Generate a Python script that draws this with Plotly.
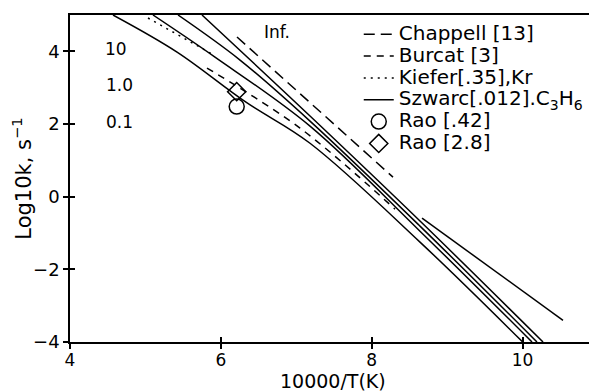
import plotly.graph_objects as go

# Fall-off curves: x = 10000/T, y = log10 k
p01_x = [4.570, 5.419, 6.333, 7.182, 8.640, 10.006]
p01_y = [5.00, 3.98, 2.60, 1.47, -1.25, -4.01]
p1_x = [5.100, 5.922, 7.182, 8.640, 10.125]
p1_y = [5.00, 3.84, 1.94, -0.95, -4.00]
p10_x = [5.432, 6.254, 7.182, 8.640, 10.191]
p10_y = [5.00, 3.76, 2.08, -0.81, -4.00]
pinf_x = [5.750, 7.182, 8.640, 10.271]
pinf_y = [5.00, 2.22, -0.67, -4.00]

chappell_x = [6.214, 8.282]
chappell_y = [4.394, 0.537]
burcat_x = [5.816, 7.049, 8.309]
burcat_y = [3.54, 1.887, -0.344]
kiefer_x = [5.034, 5.883]
kiefer_y = [4.917, 3.926]
szwarc_x = [8.667, 10.536]
szwarc_y = [-0.592, -3.402]
rao42_x = [6.21]
rao42_y = [2.48]
rao28_x = [6.21]
rao28_y = [2.89]

curve_labels = ["10", "1.0", "0.1", "Inf."]
curve_label_x = [4.61, 4.66, 4.65, 6.74]
curve_label_y = [4.06, 3.07, 2.05, 4.53]

FONT = "DejaVu Sans"
fig = go.Figure()
lw = 1.5
for xs, ys in [(p01_x, p01_y), (p1_x, p1_y), (p10_x, p10_y), (pinf_x, pinf_y)]:
    fig.add_trace(go.Scatter(x=xs, y=ys, mode="lines", line=dict(color="black", width=lw, shape="spline", smoothing=1.0),
                             showlegend=False, hoverinfo="skip"))

def lg(t):
    return '<span style="font-size:20px">' + t + '</span>'

fig.add_trace(go.Scatter(x=chappell_x, y=chappell_y, mode="lines", name=lg("Chappell [13]"),
                         line=dict(color="black", width=lw, dash="11px,6px")))
fig.add_trace(go.Scatter(x=burcat_x, y=burcat_y, mode="lines", name=lg("Burcat [3]"),
                         line=dict(color="black", width=lw, dash="7px,6px", shape="spline")))
fig.add_trace(go.Scatter(x=kiefer_x, y=kiefer_y, mode="lines", name=lg("Kiefer[.35],Kr"),
                         line=dict(color="black", width=lw, dash="2px,5px")))
fig.add_trace(go.Scatter(x=szwarc_x, y=szwarc_y, mode="lines", name=lg("Szwarc[.012].C<sub>3</sub>H<sub>6</sub>"),
                         line=dict(color="black", width=lw)))
fig.add_trace(go.Scatter(x=rao42_x, y=rao42_y, mode="markers", name=lg("Rao [.42]"),
                         marker=dict(symbol="circle-open", size=15, color="black", line=dict(width=1.5))))
fig.add_trace(go.Scatter(x=rao28_x, y=rao28_y, mode="markers", name=lg("Rao [2.8]"),
                         marker=dict(symbol="diamond-open", size=14, color="black", line=dict(width=1.5))))
# dummy trace for overlay axes (inner tick halves)
fig.add_trace(go.Scatter(x=[4], y=[-4], xaxis="x2", yaxis="y2", mode="markers",
                         marker=dict(opacity=0), showlegend=False, hoverinfo="skip"))

for t, x, y in zip(curve_labels, curve_label_x, curve_label_y):
    fig.add_annotation(x=x, y=y, text=t, showarrow=False, font=dict(family=FONT, size=17, color="black"))

# x-axis title as a paper annotation, below the tick labels
fig.add_annotation(x=0.5, y=-0.119, xref="paper", yref="paper", text="10000/T(K)", showarrow=False,
                   xanchor="center", yanchor="middle", borderpad=0,
                   font=dict(family=FONT, size=19, color="black"))

axis_common = dict(showgrid=False, zeroline=False, tickcolor="black", tickwidth=1.5, ticklen=5, automargin=False)
# page body has an 8px margin, so the figure is made 8px smaller on each leading side
fig.update_layout(
    width=589, height=384,
    margin=dict(l=62, r=2, t=7, b=50, autoexpand=False),
    paper_bgcolor="white", plot_bgcolor="white",
    font=dict(family=FONT, color="black"),
    xaxis=dict(range=[4, 10.96], tickvals=[4, 6, 8, 10], ticks="outside", showline=True, mirror=True,
               linecolor="black", linewidth=1.5, ticklabelstandoff=-3,
               tickfont=dict(size=17), **axis_common),
    yaxis=dict(range=[-4, 5], tickvals=[-4, -2, 0, 2, 4], ticks="outside", showline=True, mirror=True,
               linecolor="black", linewidth=1.5, ticklabelstandoff=0,
               tickfont=dict(size=18), title=dict(text="Log10k, s<sup>−1</sup>", font=dict(size=21)),
               **axis_common),
    xaxis2=dict(range=[4, 10.96], tickvals=[4, 6, 8, 10], ticks="inside", overlaying="x", anchor="y2",
                showticklabels=False, showline=False, **axis_common),
    yaxis2=dict(range=[-4, 5], tickvals=[-4, -2, 0, 2, 4], ticks="inside", overlaying="y", anchor="x2",
                showticklabels=False, showline=False, **axis_common),
    legend=dict(x=0.55, y=0.99, xanchor="left", yanchor="top", bgcolor="rgba(0,0,0,0)",
                font=dict(family=FONT, size=14.5, color="black"), tracegroupgap=0, itemwidth=30),
    showlegend=True,
)
fig.write_html("out.html")
